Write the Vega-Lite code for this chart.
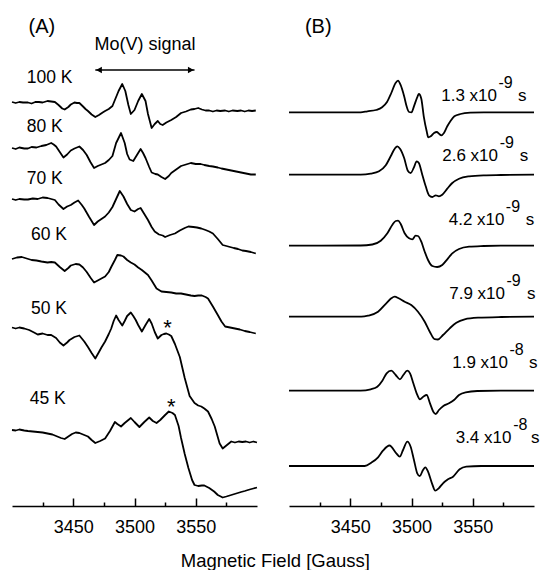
{
  "$schema": "https://vega.github.io/schema/vega-lite/v6.json",
  "background": "white",
  "padding": {"left": 11, "top": 0, "right": 8, "bottom": 0},
  "bounds": "flush",
  "spacing": 32,
  "config": {
    "view": {"stroke": null},
    "font": "Liberation Sans",
    "axis": {"grid": false, "domainColor": "black", "domainWidth": 1.5, "tickColor": "black", "tickWidth": 1.5, "labelColor": "black", "labelFontSize": 18, "labelFont": "Liberation Sans"},
    "text": {"font": "Liberation Sans", "color": "black"}
  },
  "title": {"text": "Magnetic Field [Gauss]", "orient": "bottom", "anchor": "middle", "font": "Liberation Sans", "fontSize": 18.5, "fontWeight": "normal", "color": "black", "offset": 12},
  "datasets": {
    "traces": [
      {"p": "A", "t": "100 K",
       "g": [3400,3403,3406,3409,3413,3416,3419,3422,3425,3429,3432,3435,3438,3441,3443,3446,3448,3451,3453,3455,3458,3460,3462,3465,3468,3471,3474,3476,3479,3482,3484,3487,3490,3492.5,3495,3497,3500,3503,3506,3509,3511,3514,3516.5,3519,3521,3523,3526,3530,3534,3538,3542,3546,3549,3552,3555,3558,3561,3564,3567,3570,3574,3577,3580,3584,3587,3590,3593,3596,3599],
       "s": [404,403,404,403.5,403.5,402.5,404,404,403.5,405,404.5,404,401,397.5,396.5,399,401.5,403.5,403,403,399.5,397,395,391.5,389,391,393.5,395,397,400,406,415,422,415,401,392,396,405,412,405,392,378,382,385,382,381,383.5,386,389,393,394.5,396.5,397,398,396.5,395.5,395.5,394.5,395.5,395,395.5,394.5,395.5,395,395.5,394.5,395.5,395,395.5]},
      {"p": "A", "t": "80 K",
       "g": [3400,3403,3406,3410,3413,3416,3420,3424,3428,3432,3434,3436,3439,3442,3445,3448,3451,3455,3458,3461,3464,3467,3470,3473,3476,3479,3482,3485,3489,3492,3494,3496,3499,3502,3505,3507,3509,3512,3514,3517,3519,3522,3525,3528,3530,3534,3538,3542,3546,3550,3554,3557,3561,3564,3568,3571,3575,3579,3583,3587,3591,3595,3599],
       "s": [358,357,358.5,357.5,357.5,359,358.5,360,361,363,361.5,359.5,354,348.5,351.5,355.5,357.5,359.5,356,351,344,338,340,341.5,343,346,350,363,373,363,352,346.5,345,351,357,353,348,339,333.5,332,331.5,329,327,330,333,336.5,340,341.5,343,342,342,341,340,339.5,338.5,337.5,336.5,335.5,334.5,333.5,332.5,331.5,331.5]},
      {"p": "A", "t": "70 K",
       "g": [3400,3403,3406,3410,3413,3417,3421,3425,3429,3432,3435,3438,3442,3445,3448,3451,3454,3457,3459,3463,3467,3470,3473,3476,3479,3482,3485,3488,3491,3494,3497,3500,3503,3505,3508,3511,3514,3516.5,3520,3523,3525,3529,3533,3537,3541,3544,3548,3551,3554.5,3558,3561,3564,3568,3572,3575,3578,3581,3584.5,3588,3591,3595,3599],
       "s": [307,306,307,306.5,306.5,307.5,307,308.5,308,307,306,301.5,297,299.5,301,303.5,305.5,301,297.5,289,281,284.5,287,289.5,293.5,299,307,315,309.5,302,296,294.5,297,298,292,286,279,274.5,271.5,270.5,269,271,272.5,275.5,278,279.5,279,278.5,277.5,276,274.5,272.5,267,261,260,259,258,257,255.5,255,254,252.5]},
      {"p": "A", "t": "60 K",
       "g": [3400,3404,3408,3412,3416,3420,3424,3429,3432,3435,3439,3443,3446,3448,3452,3455,3458,3461,3464,3467,3470,3473,3476,3479,3481,3484,3486,3489,3491,3494,3497,3500,3503,3506,3509,3511,3514,3518,3522,3526,3530,3534,3538,3542,3546,3549,3552,3555,3558,3560,3564,3568,3571,3574,3578,3582,3586,3590,3594,3599],
       "s": [247,248.5,249,247.5,246,245.5,244.5,243.5,244,243.5,239,235,238,240.5,242,241.5,238.5,234,228.5,223.5,225.5,227.5,229.5,234,239,246,251,250.5,249.5,246,243.5,241.5,238.5,236,233,231,225.5,217.5,214.5,214,213.5,212.5,212.5,211.5,210.5,210,210.5,210.5,209,207.5,199.5,191,184.5,179.5,178.5,177.5,176.5,175,174,172.5]},
      {"p": "A", "t": "50 K",
       "g": [3400,3403,3406,3410,3414,3418,3421,3425,3429,3432,3436,3439,3442,3445,3447,3451,3455,3457,3459,3462,3465,3468,3471,3473,3476,3479,3481,3483,3485,3487,3490,3492,3494,3497,3499,3501,3503,3506,3509,3512,3514,3516.5,3519,3522,3524,3526,3528,3530,3533,3537,3541,3545,3549,3552,3554.5,3557,3560,3563,3565.5,3569.5,3572,3575,3579,3582,3585,3588,3591,3594,3597,3600],
       "s": [178.5,177.5,178.5,177.5,176,173.5,171.5,172.5,171,171,168,163.5,160.5,163.5,166,169,170.5,167.5,164.5,159,153,147.5,154,158.5,164.5,172,177.5,185,190.5,186,180.5,185,190,193.5,190,186,181,174.5,181,187,182.5,174,167.5,171,172,172.5,171.5,170,162,149,128,110,103,100.5,99.5,97.5,94.5,87,79.5,62.5,57.5,60.5,64.5,63.5,64.5,64,64.5,63.5,64.5,63.5]},
      {"p": "A", "t": "45 K",
       "g": [3400,3403,3406,3410,3413,3417,3421,3425,3429,3433,3436,3440,3443,3446,3449,3452,3455,3458,3462,3465,3468,3472,3476,3480,3484,3486,3489,3492,3497,3500,3504,3508,3512,3515,3518,3521,3525,3528,3531,3533,3536,3538,3541,3544,3547,3549,3552,3555,3557,3561,3565,3568,3572,3575,3579,3583,3587,3590,3594,3597,3600],
       "s": [76,75.5,76.5,75.5,75,74.5,74,73.5,72.5,71.5,70,68,67,69.5,72,73.5,73,71.5,69.5,66,63,65,67.5,75,84,82,79.5,83,88,84,79,84,88.5,85,83,86,91,94.5,93,91,80,68,52,38,26,21,20,20.5,20.5,18,14.5,11,8.5,9.5,11,12.5,14,15,16.5,17.5,18.5]},
      {"p": "B", "t": "1.3e-9",
       "g": [3400,3458.5,3464,3471,3476,3480,3483.5,3487,3489,3491,3494,3496,3498,3500,3502,3505,3506,3508,3510,3512.4,3513.7,3515.7,3518.4,3520.6,3522.7,3524.3,3526.5,3529.2,3532,3535,3540,3548,3559,3600],
       "s": [393.7,393.7,394.7,396,398.7,404,413,423,425.3,421.3,409.7,399.7,394,393.7,399.7,409.7,412,407.3,389.7,374.7,368.7,369.7,373,374,372,370.7,373,379.7,385.3,389.7,392,393.3,393.7,393.7]},
      {"p": "B", "t": "2.6e-9",
       "g": [3400,3458.5,3466.7,3473.5,3479,3483,3486.3,3488.4,3490.6,3494,3497,3499.3,3502,3504.2,3506,3508.8,3511.6,3514.3,3517,3519.8,3522.4,3525.1,3529.2,3533.3,3538.8,3547,3559,3573,3600],
       "s": [331.3,331.3,332.3,334.7,340.7,349.7,357.3,359.7,357.3,348,335.3,333,338.7,344.7,343,331.3,319.7,310.7,309,310.7,309.7,311.3,317.3,323,327.3,329.7,330.7,331,331.3]},
      {"p": "B", "t": "4.2e-9",
       "g": [3400,3458.5,3468,3474.9,3480.3,3484.3,3487.1,3489,3491.2,3494.4,3498,3500.7,3503.4,3505.3,3508,3510.8,3513.5,3517,3521,3525.1,3529.2,3533.3,3538.8,3547,3559,3573,3600],
       "s": [260.3,260.5,261.5,265.3,272.7,281,285,285.3,282,272.7,267.7,266.7,270.3,270,264.3,254.3,246,240,239,241,246.7,252.7,257,259.3,260,260.3,260.3]},
      {"p": "B", "t": "7.9e-9",
       "g": [3400,3459,3464.5,3472.7,3479.4,3483.5,3486.3,3489.5,3494.4,3499.8,3505.3,3510.8,3514.9,3518.9,3521.6,3525.7,3531.2,3536.6,3543.4,3554.3,3573.3,3600],
       "s": [189.3,189.3,190.3,194.3,202.7,207.7,209.3,207.7,204.3,201,194.3,184.3,174.3,166.8,166.5,171,177.7,183.3,186.7,188.3,189,189.3]},
      {"p": "B", "t": "1.9e-8",
       "g": [3400,3458.5,3466.7,3472.1,3476.2,3479.7,3483.5,3487.1,3490.6,3493.3,3496.6,3498.8,3501.5,3504.2,3506.9,3509.6,3512.4,3515.1,3517.8,3519.8,3522.4,3526,3530.6,3534.7,3538.8,3544.2,3553.7,3573,3600],
       "s": [115.3,115.3,116.7,119.3,125.3,132.7,135.3,131,126.7,131,135.3,132.7,122.7,112.7,106.7,109.3,111,102.7,94.3,92,96,100,102.7,106,111,113.7,115,115.3,115.3]},
      {"p": "B", "t": "3.4e-8",
       "g": [3400,3461.8,3467.2,3472.7,3476.7,3482,3487.6,3490.4,3493.1,3496.6,3499.3,3502,3504.7,3506.7,3509.4,3511.3,3513.5,3516.7,3519.4,3522.2,3525.7,3529.8,3533.9,3539.3,3544.7,3557,3600],
       "s": [40,40,43.3,48.7,55.3,60.5,52.7,49.3,56,64.3,59.3,46,32.7,30,36,38.7,34.3,22.7,15.3,17.7,22.7,26.7,29.3,36.7,39.3,40,40]}
    ],
    "texts": [
      {"p": "A", "k": "panel", "g": 3413.5, "s": 479, "text": "(A)"},
      {"p": "B", "k": "panel", "g": 3413, "s": 479, "text": "(B)"},
      {"p": "A", "k": "head", "g": 3508.6, "s": 461, "text": "Mo(V) signal"},
      {"p": "A", "k": "temp", "g": 3412, "s": 428.5, "text": "100 K"},
      {"p": "A", "k": "temp", "g": 3412, "s": 379, "text": "80 K"},
      {"p": "A", "k": "temp", "g": 3412, "s": 327, "text": "70 K"},
      {"p": "A", "k": "temp", "g": 3415.5, "s": 271.5, "text": "60 K"},
      {"p": "A", "k": "temp", "g": 3415.5, "s": 197.5, "text": "50 K"},
      {"p": "A", "k": "temp", "g": 3414.5, "s": 107, "text": "45 K"},
      {"p": "A", "k": "star", "g": 3527, "s": 171, "text": "*"},
      {"p": "A", "k": "star", "g": 3530, "s": 92, "text": "*"},
      {"p": "B", "k": "tau", "g": 3569.8, "s": 405.5, "text": "1.3 x10"},
      {"p": "B", "k": "tau", "g": 3570.6, "s": 345, "text": "2.6 x10"},
      {"p": "B", "k": "tau", "g": 3575.9, "s": 281.5, "text": "4.2 x10"},
      {"p": "B", "k": "tau", "g": 3576.3, "s": 207.5, "text": "7.9 x10"},
      {"p": "B", "k": "tau", "g": 3578.8, "s": 138.5, "text": "1.9 x10"},
      {"p": "B", "k": "tau", "g": 3581.6, "s": 62.7, "text": "3.4 x10"},
      {"p": "B", "k": "sup", "g": 3571, "s": 418.5, "text": "-9"},
      {"p": "B", "k": "sup", "g": 3572, "s": 358, "text": "-9"},
      {"p": "B", "k": "sup", "g": 3577, "s": 294.5, "text": "-9"},
      {"p": "B", "k": "sup", "g": 3577.5, "s": 220.5, "text": "-9"},
      {"p": "B", "k": "sup", "g": 3580, "s": 151.5, "text": "-8"},
      {"p": "B", "k": "sup", "g": 3583, "s": 75.7, "text": "-8"},
      {"p": "B", "k": "unit", "g": 3587, "s": 405.5, "text": "s"},
      {"p": "B", "k": "unit", "g": 3588.3, "s": 345, "text": "s"},
      {"p": "B", "k": "unit", "g": 3593.2, "s": 281.5, "text": "s"},
      {"p": "B", "k": "unit", "g": 3594.3, "s": 207.5, "text": "s"},
      {"p": "B", "k": "unit", "g": 3596, "s": 138.5, "text": "s"},
      {"p": "B", "k": "unit", "g": 3597.6, "s": 62.7, "text": "s"}
    ],
    "arrow": [
      {"g": 3468, "g2": 3549, "s": 436}
    ],
    "heads": [
      {"g": 3471, "s": 436, "dir": "l"},
      {"g": 3546, "s": 436, "dir": "r"}
    ]
  },
  "hconcat": [
    {
      "width": 245, "height": 506,
      "encoding": {
        "x": {"field": "g", "type": "quantitative", "scale": {"domain": [3400, 3600], "nice": false, "zero": false},
              "axis": {"values": [3425, 3450, 3475, 3500, 3525, 3550, 3575], "format": "d", "title": null,
                       "labelExpr": "datum.value % 50 === 0 ? datum.label : ''",
                       "tickSize": {"condition": {"test": "datum.value % 50 === 0", "value": -8}, "value": -4},
                       "labelPadding": 20, "labelFlush": false, "labelOverlap": false}},
        "y": {"field": "s", "type": "quantitative", "scale": {"domain": [0, 506], "nice": false, "zero": false}, "axis": null}
      },
      "layer": [
        {"data": {"name": "traces"}, "transform": [{"filter": "datum.p === 'A'"}, {"flatten": ["g", "s"]}],
         "mark": {"type": "line", "color": "black", "strokeWidth": 1.8, "interpolate": "linear", "strokeJoin": "round"},
         "encoding": {"detail": {"field": "t"}}},
        {"data": {"name": "texts"}, "transform": [{"filter": "datum.p === 'A' && datum.k === 'temp'"}],
         "mark": {"type": "text", "align": "left", "baseline": "middle", "fontSize": 17.5},
         "encoding": {"text": {"field": "text"}}},
        {"data": {"name": "texts"}, "transform": [{"filter": "datum.p === 'A' && datum.k === 'panel'"}],
         "mark": {"type": "text", "align": "left", "baseline": "middle", "fontSize": 20},
         "encoding": {"text": {"field": "text"}}},
        {"data": {"name": "texts"}, "transform": [{"filter": "datum.k === 'head'"}],
         "mark": {"type": "text", "align": "center", "baseline": "middle", "fontSize": 18},
         "encoding": {"text": {"field": "text"}}},
        {"data": {"name": "texts"}, "transform": [{"filter": "datum.k === 'star'"}],
         "mark": {"type": "text", "align": "center", "baseline": "alphabetic", "fontSize": 22},
         "encoding": {"text": {"field": "text"}}},
        {"data": {"name": "arrow"},
         "mark": {"type": "rule", "color": "black", "strokeWidth": 1.5},
         "encoding": {"x2": {"field": "g2"}}},
        {"data": {"name": "heads"},
         "mark": {"type": "point", "filled": true, "color": "black", "opacity": 1, "size": 45},
         "encoding": {"shape": {"field": "dir", "type": "nominal", "scale": {"domain": ["l", "r"], "range": ["triangle-left", "triangle-right"]}, "legend": null}}}
      ]
    },
    {
      "width": 245, "height": 506,
      "encoding": {
        "x": {"field": "g", "type": "quantitative", "scale": {"domain": [3400, 3600], "nice": false, "zero": false},
              "axis": {"values": [3425, 3450, 3475, 3500, 3525, 3550, 3575], "format": "d", "title": null,
                       "labelExpr": "datum.value % 50 === 0 ? datum.label : ''",
                       "tickSize": {"condition": {"test": "datum.value % 50 === 0", "value": -8}, "value": -4},
                       "labelPadding": 20, "labelFlush": false, "labelOverlap": false}},
        "y": {"field": "s", "type": "quantitative", "scale": {"domain": [0, 506], "nice": false, "zero": false}, "axis": null}
      },
      "layer": [
        {"data": {"name": "traces"}, "transform": [{"filter": "datum.p === 'B'"}, {"flatten": ["g", "s"]}],
         "mark": {"type": "line", "color": "black", "strokeWidth": 1.8, "interpolate": "monotone"},
         "encoding": {"detail": {"field": "t"}}},
        {"data": {"name": "texts"}, "transform": [{"filter": "datum.p === 'B' && datum.k === 'panel'"}],
         "mark": {"type": "text", "align": "left", "baseline": "middle", "fontSize": 20},
         "encoding": {"text": {"field": "text"}}},
        {"data": {"name": "texts"}, "transform": [{"filter": "datum.k === 'tau'"}],
         "mark": {"type": "text", "align": "right", "baseline": "alphabetic", "fontSize": 17},
         "encoding": {"text": {"field": "text"}}},
        {"data": {"name": "texts"}, "transform": [{"filter": "datum.k === 'sup'"}],
         "mark": {"type": "text", "align": "left", "baseline": "alphabetic", "fontSize": 16},
         "encoding": {"text": {"field": "text"}}},
        {"data": {"name": "texts"}, "transform": [{"filter": "datum.k === 'unit'"}],
         "mark": {"type": "text", "align": "left", "baseline": "alphabetic", "fontSize": 17},
         "encoding": {"text": {"field": "text"}}}
      ]
    }
  ]
}
